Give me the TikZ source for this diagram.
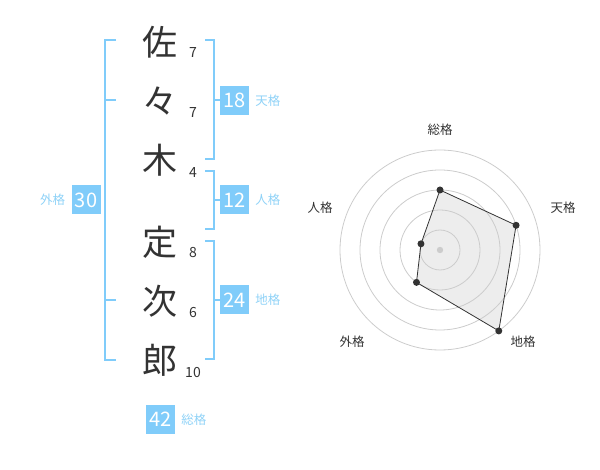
\documentclass[tikz,border=0pt]{standalone}
\usepackage{fontspec}
\setmainfont{Noto Sans CJK JP}
\usetikzlibrary{positioning}
\definecolor{kakublue}{HTML}{80CCFA}
\definecolor{kakutext}{HTML}{8FD2F7}
\definecolor{inkgray}{HTML}{333333}
\definecolor{ringgray}{HTML}{CCCCCC}
\tikzset{
  kanji/.style={font=\fontsize{35}{35}\selectfont, text=inkgray},
  strokes/.style={font=\fontsize{14}{14}\selectfont, text=inkgray},
  kakubox/.style={fill=kakublue, text=white, minimum size=29pt, inner sep=0pt, font=\fontsize{20}{20}\selectfont},
  kakuname/.style={text=kakutext, font=\fontsize{12.5}{12.5}\selectfont, inner sep=0pt},
  bracket/.style={draw=kakublue, line width=2pt},
  axisname/.style={text=inkgray, font=\fontsize{12.5}{12.5}\selectfont},
}
\begin{document}
\begin{tikzpicture}[x=1pt, y=-1pt]
  \useasboundingbox (0,0) rectangle (600,470);
  % name column
  \node[kanji] (c1) at (160,42) {佐};
  \node[kanji] (c2) at (160,101) {々};
  \node[kanji] (c3) at (160,160) {木};
  \node[kanji] (c4) at (160,242) {定};
  \node[kanji] (c5) at (160,301) {次};
  \node[kanji] (c6) at (160,360) {郎};
  \node[strokes] (s1) at (193,53) {7};
  \node[strokes] (s2) at (193,113) {7};
  \node[strokes] (s3) at (193,173) {4};
  \node[strokes] (s4) at (193,253) {8};
  \node[strokes] (s5) at (193,313) {6};
  \node[strokes] (s6) at (193,373) {10};
  % brackets
  \draw[bracket] (116,40) -- (105,40) -- (105,360) -- (116,360);
  \draw[bracket] (105,100) -- (116,100);
  \draw[bracket] (105,300) -- (116,300);
  \draw[bracket] (205,40) -- (214,40) -- (214,159) -- (205,159);
  \draw[bracket] (214,100) -- (220,100);
  \draw[bracket] (205,171) -- (214,171) -- (214,229) -- (205,229);
  \draw[bracket] (214,200) -- (220,200);
  \draw[bracket] (205,241) -- (214,241) -- (214,359) -- (205,359);
  \draw[bracket] (214,300) -- (220,300);
  % kaku values
  \node[kakubox] (gai) at (86,200) {30};
  \node[kakuname, left=6pt of gai] {外格};
  \node[kakubox] (ten) at (234.5,100.5) {18};
  \node[kakuname, right=6pt of ten] {天格};
  \node[kakubox] (jin) at (234.5,200) {12};
  \node[kakuname, right=6pt of jin] {人格};
  \node[kakubox] (chi) at (234.5,300) {24};
  \node[kakuname, right=6pt of chi] {地格};
  \node[kakubox] (sou) at (160.5,419.5) {42};
  \node[kakuname, right=6pt of sou] {総格};
  % radar chart
  \begin{scope}[shift={(440,250)}]
    \coordinate (pS) at (-90:60);
    \coordinate (pT) at (-18:80);
    \coordinate (pC) at (54:100);
    \coordinate (pG) at (126:40);
    \coordinate (pJ) at (198:20);
    \fill[black!7] (pS) -- (pT) -- (pC) -- (pG) -- (pJ) -- cycle;
    \foreach \r in {20,40,60,80,100}
      \draw[ringgray, line width=0.8pt] (0,0) circle (\r);
    \fill[ringgray] (0,0) circle (3.2);
    \draw[inkgray, line width=0.8pt] (pS) -- (pT) -- (pC) -- (pG) -- (pJ) -- cycle;
    \foreach \p in {pS,pT,pC,pG,pJ}
      \fill[inkgray] (\p) circle (3.5);
    \node[axisname] (lS) at (0,-120) {総格};
    \node[axisname] (lT) at (123,-42) {天格};
    \node[axisname] (lJ) at (-120,-42) {人格};
    \node[axisname] (lG) at (-88,92) {外格};
    \node[axisname] (lC) at (83,92) {地格};
  \end{scope}
\end{tikzpicture}
\end{document}
